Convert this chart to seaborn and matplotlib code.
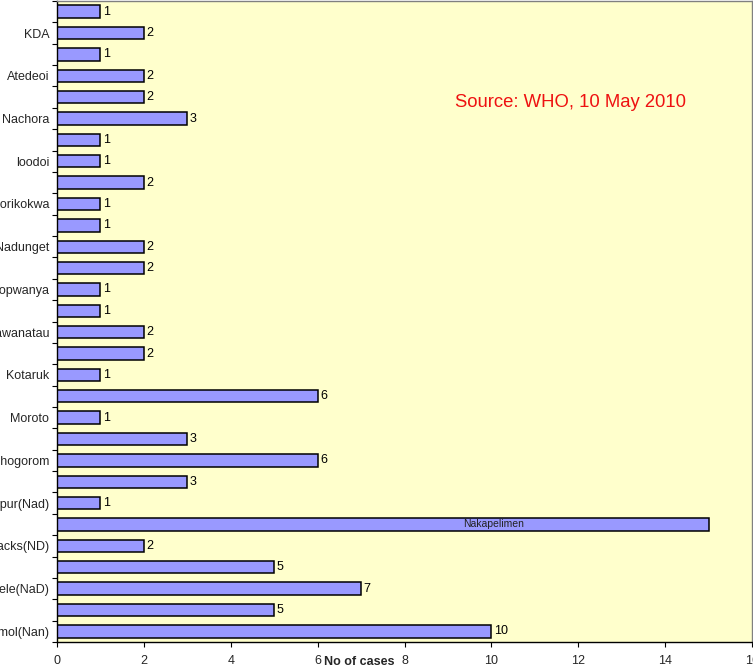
import matplotlib
matplotlib.use("Agg")
import matplotlib.pyplot as plt
import seaborn as sns
import pandas as pd
import numpy as np

# Data (top to bottom)
tick_labels = ["", "KDA", "", "Atedeoi", "", "Nachora", "", "loodoi", "", "Lorikokwa",
               "", "Nadunget", "", "Lopwanya", "", "Nawanatau", "", "Kotaruk", "", "Moroto",
               "", "Nachogorom", "", "Lopur(Nad)", "", "Barracks(ND)", "", "Lokopele(NaD)", "", "Lomol(Nan)"]
values = [1, 2, 1, 2, 2, 3, 1, 1, 2, 1,
          1, 2, 2, 1, 1, 2, 2, 1, 6, 1,
          3, 6, 3, 1, 15, 2, 5, 7, 5, 10]
inside_label_index = 24
inside_label_text = "Nakapelimen"
source_text = "Source: WHO, 10 May 2010"
x_ticks = [0, 2, 4, 6, 8, 10, 12, 14, 16]

ids = [f"c{i}" for i in range(len(values))]
df = pd.DataFrame({"cat": ids, "val": values})

sns.set_theme(style="white")
plt.rcParams["font.family"] = ["Liberation Sans", "DejaVu Sans"]

fig = plt.figure(figsize=(7.53, 6.70), dpi=100)
ax = fig.add_axes([57/753, 28/670, 695/753, 641/670])
ax.set_facecolor("#FFFFCC")

sns.barplot(data=df, x="val", y="cat", order=ids, orient="h", color="#9999FF",
            saturation=1, edgecolor="black", linewidth=1.1, width=0.58, ax=ax)

ax.set_xlim(0, 16)
ax.set_ylim(len(values) - 0.5, -0.5)
ax.set_xticks(x_ticks)
ax.set_xticklabels([str(t) for t in x_ticks], fontsize=9)
ax.set_yticks(range(len(values)))
ax.set_yticklabels(tick_labels, fontsize=9)
ax.set_yticks(np.arange(-0.5, len(values), 1.0), minor=True)
ax.tick_params(axis="y", which="major", length=0, pad=5.5)
ax.tick_params(axis="y", which="minor", length=3.5, width=0.8, color="black", direction="out", left=True)
ax.tick_params(axis="x", which="major", length=3.5, width=0.8, color="black", direction="out", bottom=True, pad=5.5)
ax.set_xlabel("")
ax.set_ylabel("")

for s in ["left", "bottom"]:
    ax.spines[s].set_color("black")
    ax.spines[s].set_linewidth(1.0)
for s in ["top", "right"]:
    ax.spines[s].set_color("#808080")
    ax.spines[s].set_linewidth(1.0)

for i, v in enumerate(values):
    if i == inside_label_index:
        ax.text(10.04, i, inside_label_text, ha="center", va="center", fontsize=7.5, color="#222222")
    else:
        ax.text(v + 0.06, i, str(v), ha="left", va="center", fontsize=9, color="black")

fig.text(324/753, 8/670, "No of cases", ha="left", va="center",
         fontsize=9, fontweight="bold")
ax.text(0.573, 0.841, source_text, transform=ax.transAxes, ha="left", va="center",
        fontsize=13.3, color="#EE1111")

fig.savefig("out.png", dpi=100)
